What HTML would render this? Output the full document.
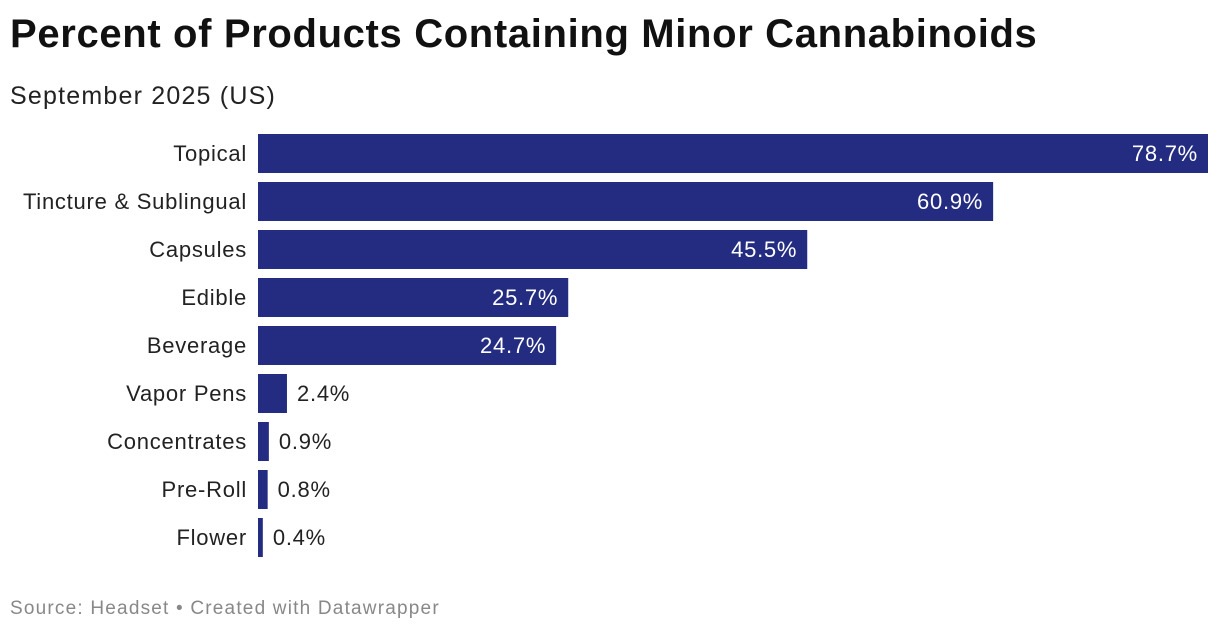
<!DOCTYPE html>
<html><head><meta charset="utf-8">
<style>
body{margin:0;width:1220px;height:634px;background:#fff;font-family:"Liberation Sans",Arial,sans-serif;overflow:hidden;position:relative}
#title{position:absolute;left:10px;top:12px;font-size:40px;font-weight:bold;color:#111;letter-spacing:0.65px}
#subtitle{position:absolute;left:10px;top:82px;font-size:25px;color:#222;letter-spacing:1.2px}
#source{position:absolute;left:10px;top:598px;font-size:19px;color:#888;letter-spacing:1.2px}
svg{position:absolute;left:0;top:0}
svg text{letter-spacing:0.75px}
</style></head><body>
<div id="title">Percent of Products Containing Minor Cannabinoids</div>
<div id="subtitle">September 2025 (US)</div>
<svg id="chart" width="1220" height="634"></svg>
<div id="source">Source: Headset • Created with Datawrapper</div>
<script>
const categories=["Topical","Tincture & Sublingual","Capsules","Edible","Beverage","Vapor Pens","Concentrates","Pre-Roll","Flower"];
const values=[78.7,60.9,45.5,25.7,24.7,2.4,0.9,0.8,0.4];
const valueLabels=["78.7%","60.9%","45.5%","25.7%","24.7%","2.4%","0.9%","0.8%","0.4%"];
const x0=258,x1=1208,maxV=78.7;
const xs=v=>x0+(v/maxV)*(x1-x0);
const yTop=134,pitch=48,bh=39;
const ys=i=>yTop+i*pitch;
const svg=document.getElementById('chart');
const NS="http://www.w3.org/2000/svg";
categories.forEach((c,i)=>{
  const y=ys(i);
  const r=document.createElementNS(NS,'rect');
  
  
  r.setAttribute('x',x0);r.setAttribute('y',y);
  r.setAttribute('width',Math.max(xs(values[i])-x0,3));r.setAttribute('height',bh);
  r.setAttribute('fill','#232c80');
  svg.appendChild(r);
  const t=document.createElementNS(NS,'text');
  
  
  t.setAttribute('x',247);t.setAttribute('y',y+bh/2+7.5);
  t.setAttribute('text-anchor','end');t.setAttribute('font-size','22');t.setAttribute('fill','#222');
  t.textContent=c;svg.appendChild(t);
  const w=xs(values[i])-x0;
  const v=document.createElementNS(NS,'text');
  
  
  v.setAttribute('y',y+bh/2+7.5);v.setAttribute('font-size','22');
  if(w>80){v.setAttribute('x',xs(values[i])-10);v.setAttribute('text-anchor','end');v.setAttribute('fill','#fff');}
  else{v.setAttribute('x',x0+Math.max(w,3)+10);v.setAttribute('fill','#222');}
  v.textContent=valueLabels[i];svg.appendChild(v);
});
</script>
</body></html>
